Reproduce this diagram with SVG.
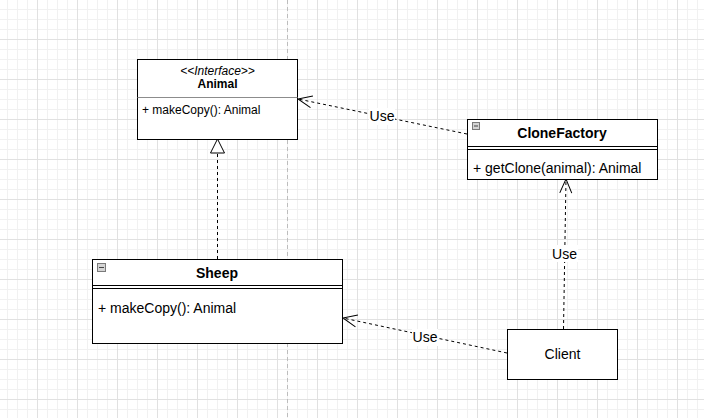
<svg xmlns="http://www.w3.org/2000/svg" width="704" height="418" viewBox="0 0 704 418">
  <style>
    .box { fill: #ffffff; stroke: #000000; stroke-width: 1; }
    .sep { stroke: #000000; stroke-width: 1; fill: none; }
    .sepg { stroke: #8c8c8c; stroke-width: 1; fill: none; }
    .t { font-family: "Liberation Sans", Arial, Helvetica, sans-serif; fill: #000000; }
    .title { font-size: 14px; font-weight: bold; text-anchor: middle; }
    .m14 { font-size: 14px; }
    .m12 { font-size: 12px; }
    .edge { stroke: #000000; stroke-width: 1; fill: none; stroke-dasharray: 3 3; }
    .lbl { font-size: 14px; text-anchor: middle; }
    .lblbg { fill: #ffffff; }
    .icon { fill: #d4d4d4; stroke: #7a7a7a; stroke-width: 1; }
  </style>
  <defs>
    <pattern id="minor" patternUnits="userSpaceOnUse" x="7" y="9" width="10" height="10">
      <path d="M0.5 0 V10 M0 0.5 H10" stroke="#f1f1f1" stroke-width="1" fill="none"/>
    </pattern>
    <pattern id="major" patternUnits="userSpaceOnUse" x="37" y="39" width="40" height="40">
      <path d="M0.5 0 V40 M0 0.5 H40" stroke="#e1e1e1" stroke-width="1" fill="none"/>
    </pattern>
    <marker id="open" markerUnits="userSpaceOnUse" viewBox="-16 -8 18 16" refX="0" refY="0" markerWidth="18" markerHeight="16" orient="auto">
      <path d="M-14,-6 L0,0 L-14,6" fill="none" stroke="#000000" stroke-width="1"/>
    </marker>
    <marker id="tri" markerUnits="userSpaceOnUse" viewBox="-16 -9 18 18" refX="0" refY="0" markerWidth="18" markerHeight="18" orient="auto">
      <path d="M0,0 L-14,-7 L-14,7 Z" fill="#ffffff" stroke="#000000" stroke-width="1"/>
    </marker>
  </defs>

  <rect x="0" y="0" width="704" height="418" fill="#ffffff"/>
  <rect x="0" y="0" width="704" height="418" fill="url(#minor)"/>
  <rect x="0" y="0" width="704" height="418" fill="url(#major)"/>
  <line x1="287.5" y1="0" x2="287.5" y2="418" stroke="#bdbdbd" stroke-width="1" stroke-dasharray="4 3"/>

  <g id="connectors">
    <g id="edge-clonefactory-animal">
      <path class="edge" d="M467,134 L298,99" marker-end="url(#open)"/>
      <rect class="lblbg" x="369" y="108" width="26" height="17"/>
      <text class="t lbl" x="382" y="121">Use</text>
    </g>
    <g id="edge-sheep-animal">
      <path class="edge" d="M217.5,259 L217.5,139" marker-end="url(#tri)"/>
    </g>
    <g id="edge-client-clonefactory">
      <path class="edge" d="M563.5,329 L566,179" marker-end="url(#open)"/>
      <rect class="lblbg" x="552" y="245" width="26" height="17"/>
      <text class="t lbl" x="564.5" y="259">Use</text>
    </g>
    <g id="edge-client-sheep">
      <path class="edge" d="M507,353 L343,318" marker-end="url(#open)"/>
      <rect class="lblbg" x="412" y="329" width="26" height="17"/>
      <text class="t lbl" x="425" y="342">Use</text>
    </g>
  </g>

  <g id="animal">
    <rect class="box" x="137.5" y="59.5" width="160" height="80"/>
    <line class="sepg" x1="137.5" y1="97.5" x2="297.5" y2="97.5"/>
    <text class="t m12" x="217.5" y="75" text-anchor="middle" font-style="italic">&lt;&lt;Interface&gt;&gt;</text>
    <text class="t m12" x="217.5" y="88" text-anchor="middle" font-weight="bold">Animal</text>
    <text class="t m12" x="142" y="114">+ makeCopy(): Animal</text>
  </g>

  <g id="clonefactory">
    <rect class="box" x="467.5" y="119.5" width="190" height="60"/>
    <line class="sep" x1="467.5" y1="146.5" x2="657.5" y2="146.5"/>
    <line class="sep" x1="467.5" y1="149.5" x2="657.5" y2="149.5"/>
    <rect class="icon" x="472.5" y="122.5" width="7" height="7"/>
    <line x1="474" y1="126" x2="478" y2="126" stroke="#444" stroke-width="1"/>
    <text class="t title" x="562" y="138">CloneFactory</text>
    <text class="t m14" x="473" y="173">+ getClone(animal): Animal</text>
  </g>

  <g id="sheep">
    <rect class="box" x="92.5" y="259.5" width="250" height="84"/>
    <line class="sep" x1="92.5" y1="285.5" x2="342.5" y2="285.5"/>
    <line class="sep" x1="92.5" y1="288.5" x2="342.5" y2="288.5"/>
    <rect class="icon" x="97.5" y="263.5" width="8" height="8"/>
    <line x1="99" y1="267.5" x2="104" y2="267.5" stroke="#444" stroke-width="1"/>
    <text class="t title" x="217" y="278">Sheep</text>
    <text class="t m14" x="98" y="313">+ makeCopy(): Animal</text>
  </g>

  <g id="client">
    <rect class="box" x="507.5" y="329.5" width="110" height="50"/>
    <text class="t m14" x="562.5" y="359" text-anchor="middle">Client</text>
  </g>
</svg>
